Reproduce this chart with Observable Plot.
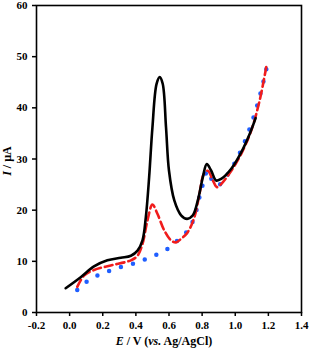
<!DOCTYPE html>
<html>
<head>
<meta charset="utf-8">
<script src="https://cdn.jsdelivr.net/npm/d3@7"></script>
<script src="https://cdn.jsdelivr.net/npm/@observablehq/plot@0.6"></script>
<style>
  html, body { margin: 0; padding: 0; background: #fff; }
  #chart { width: 309px; height: 352px; }
</style>
</head>
<body>
<div id="chart"></div>
<script>
// Series: black solid
const blackE = [-0.024, 0.067, 0.147, 0.228, 0.309, 0.37, 0.41, 0.44, 0.46, 0.48, 0.50, 0.525, 0.544, 0.562, 0.582, 0.60, 0.632, 0.673, 0.709, 0.744, 0.774, 0.804, 0.828, 0.855, 0.885, 0.915, 0.976, 1.036, 1.087, 1.123];
const blackI = [4.75, 6.9, 9.0, 10.2, 10.7, 11.1, 12.1, 14.1, 18.6, 26.4, 36.2, 44.7, 46.0, 44.7, 36.2, 27.7, 21.9, 19.0, 18.3, 19.0, 21.9, 26.4, 29.0, 27.7, 25.8, 26.1, 28.1, 31.3, 34.9, 38.0];
// Series: red dashed
const redE = [0.046, 0.087, 0.147, 0.248, 0.37, 0.41, 0.44, 0.47, 0.50, 0.53, 0.572, 0.612, 0.642, 0.673, 0.713, 0.753, 0.784, 0.81, 0.834, 0.865, 0.889, 0.915, 0.976, 1.036, 1.097, 1.147, 1.19];
const redI = [5.0, 7.2, 8.3, 9.2, 10.2, 11.1, 13.4, 18.0, 21.1, 19.3, 16.0, 14.1, 13.7, 14.4, 15.7, 18.6, 23.2, 27.1, 27.7, 25.8, 24.5, 25.1, 27.7, 31.0, 35.6, 41.4, 48.5];
// Series: blue dotted
const blueE = [0.046, 0.127, 0.208, 0.289, 0.37, 0.45, 0.53, 0.59, 0.652, 0.713, 0.753, 0.794, 0.834, 0.865, 0.895, 0.935, 0.995, 1.056, 1.117, 1.157, 1.19];
const blueI = [4.4, 6.6, 7.7, 8.7, 9.4, 10.3, 11.4, 12.4, 14.1, 16.0, 18.6, 23.8, 27.7, 25.5, 24.8, 26.1, 29.1, 33.3, 38.8, 43.4, 47.9];

const xTicks = [-0.2, 0.0, 0.2, 0.4, 0.6, 0.8, 1.0, 1.2, 1.4];
const yTicks = [0, 10, 20, 30, 40, 50, 60];

const toRows = (E, I) => E.map((e, i) => ({E: e, I: I[i]}));
const black = toRows(blackE, blackI);
const red = toRows(redE, redI);
const blue = toRows(blueE, blueI);

const chart = Plot.plot({
  width: 309,
  height: 352,
  marginLeft: 36,
  marginRight: 8,
  marginTop: 5,
  marginBottom: 40,
  style: {fontFamily: "'Liberation Serif', 'Times New Roman', serif", fontSize: "11px", fontWeight: "bold", color: "#000", background: "#fff"},
  x: {domain: [-0.2, 1.4]},
  y: {domain: [0, 60]},
  marks: [
    Plot.axisX({ticks: xTicks, tickFormat: d => d.toFixed(1), tickSize: 4, tickPadding: 5, strokeWidth: 1.5, label: null, fontWeight: "bold"}),
    Plot.axisY({ticks: yTicks, tickFormat: d => String(d), tickSize: 4, tickPadding: 5, strokeWidth: 1.5, label: null, fontWeight: "bold"}),
    Plot.frame({stroke: "#000", strokeWidth: 1.6}),
    Plot.line(blue, {x: "E", y: "I", stroke: "#1f5eff", strokeWidth: 4.5, strokeDasharray: "0 12.5", strokeLinecap: "round", curve: "catmull-rom"}),
    Plot.line(red, {x: "E", y: "I", stroke: "#f01c1c", strokeWidth: 2.6, strokeDasharray: "8 4", curve: "catmull-rom"}),
    Plot.line(black, {x: "E", y: "I", stroke: "#000", strokeWidth: 2.6, curve: "catmull-rom"})
  ]
});

const svg = d3.select(chart);
// x-axis label
const xl = svg.append("text")
  .attr("x", 164).attr("y", 345)
  .attr("text-anchor", "middle")
  .attr("font-size", "12px").attr("font-weight", "bold")
  .attr("fill", "#000");
xl.append("tspan").attr("font-style", "italic").text("E");
xl.append("tspan").text(" / V (");
xl.append("tspan").attr("font-style", "italic").text("vs.");
xl.append("tspan").text(" Ag/AgCl)");
// y-axis label
const yl = svg.append("text")
  .attr("transform", "translate(11,161) rotate(-90)")
  .attr("text-anchor", "middle")
  .attr("font-size", "12px").attr("font-weight", "bold")
  .attr("fill", "#000");
yl.append("tspan").attr("font-style", "italic").text("I");
yl.append("tspan").text(" / µA");

document.getElementById("chart").appendChild(chart);
</script>
</body>
</html>
